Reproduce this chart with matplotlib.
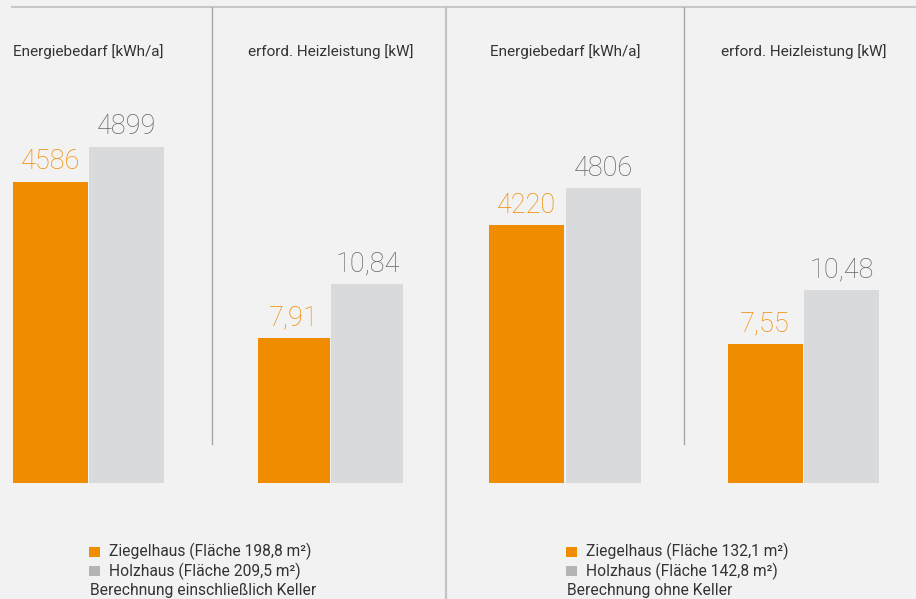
import matplotlib
matplotlib.use("Agg")
import matplotlib.pyplot as plt
from matplotlib.lines import Line2D
from matplotlib.patches import Rectangle

plt.rcParams['font.family'] = ['Roboto', 'DejaVu Sans']

# ---- data ----
panel_titles = ["Energiebedarf [kWh/a]", "erford. Heizleistung [kW]",
                "Energiebedarf [kWh/a]", "erford. Heizleistung [kW]"]
ziegel_values = [4586, 7.91, 4220, 7.55]
holz_values = [4899, 10.84, 4806, 10.48]
decimals = [0, 2, 0, 2]
legend_ziegel = ["Ziegelhaus (Fläche 198,8 m²)", "Ziegelhaus (Fläche 132,1 m²)"]
legend_holz = ["Holzhaus (Fläche 209,5 m²)", "Holzhaus (Fläche 142,8 m²)"]
legend_notes = ["Berechnung einschließlich Keller", "Berechnung ohne Keller"]

# ---- style ----
BG = "#f2f2f2"
ORANGE = "#f08c00"
GRAY_BAR = "#d9dadc"
GRAY_LEG = "#b4b4b4"
TXT = "#333333"
NUM_GRAY = "#666666"

W, H = 916, 599
fig = plt.figure(figsize=(W / 100, H / 100), dpi=100, facecolor=BG)

def fx(px):
    return px / W

def fy(py):
    return 1 - py / H

# axes pixel spans (left, right) and y-limits per panel
spans = [(12, 165), (257, 404), (488, 642), (727, 880)]
ylims = [(1894, 5319), (0, 20.87), (134, 6200), (0, 20.8)]
ax_top, ax_bot = 100, 483

def fmt(v, d):
    if d == 0:
        return f"{v:.0f}"
    return f"{v:.{d}f}".replace(".", ",")

for i in range(4):
    l, r = spans[i]
    ax = fig.add_axes([fx(l), fy(ax_bot), fx(r - l), (ax_bot - ax_top) / H])
    ax.set_facecolor("none")
    ax.set_xlim(-0.5, 1.5)
    ax.set_ylim(*ylims[i])
    vals = [ziegel_values[i], holz_values[i]]
    cols = [ORANGE, GRAY_BAR]
    ncols = [ORANGE, NUM_GRAY]
    ax.bar([0, 1], vals, width=0.975, color=cols, linewidth=0)
    for x, v, c in zip([0, 1], vals, ncols):
        ax.annotate(fmt(v, decimals[i]), (x, v), xytext=(0, 9),
                    textcoords="offset points", ha="center", va="baseline",
                    fontsize=19.5, color=c, fontweight="light")
    ax.axis("off")
    # panel title
    fig.text(fx((l + r) / 2), fy(52), panel_titles[i], ha="center", va="center",
             fontsize=11, color=TXT)

# separators
lc = "#c4c4c4"
fig.add_artist(Line2D([fx(12), fx(916)], [fy(7), fy(7)], color="#c8c8c8", lw=1.5,
                      transform=fig.transFigure))
fig.add_artist(Line2D([fx(211.5), fx(211.5)], [fy(7), fy(444)], color="#a8a8a8", lw=1.0,
                      transform=fig.transFigure))
fig.add_artist(Line2D([fx(684), fx(684)], [fy(7), fy(444)], color="#a8a8a8", lw=1.0,
                      transform=fig.transFigure))
fig.add_artist(Line2D([fx(446), fx(446)], [fy(7), fy(599)], color=lc, lw=1.6,
                      transform=fig.transFigure))

# legends
leg_x = [89, 566]
for j in range(2):
    x0 = leg_x[j]
    for k, (txt, col) in enumerate([(legend_ziegel[j], ORANGE), (legend_holz[j], GRAY_LEG)]):
        yc = 551.5 + k * 19.5
        fig.add_artist(Rectangle((fx(x0), fy(yc + 5)), fx(11), 10 / H, color=col,
                                 transform=fig.transFigure, lw=0))
        fig.text(fx(x0 + 20), fy(yc), txt, ha="left", va="center",
                 fontsize=11.25, color=TXT)
    fig.text(fx(x0 + 1), fy(590), legend_notes[j], ha="left", va="center",
             fontsize=11.25, color=TXT)

fig.savefig("out.png", dpi=100, facecolor=BG)
